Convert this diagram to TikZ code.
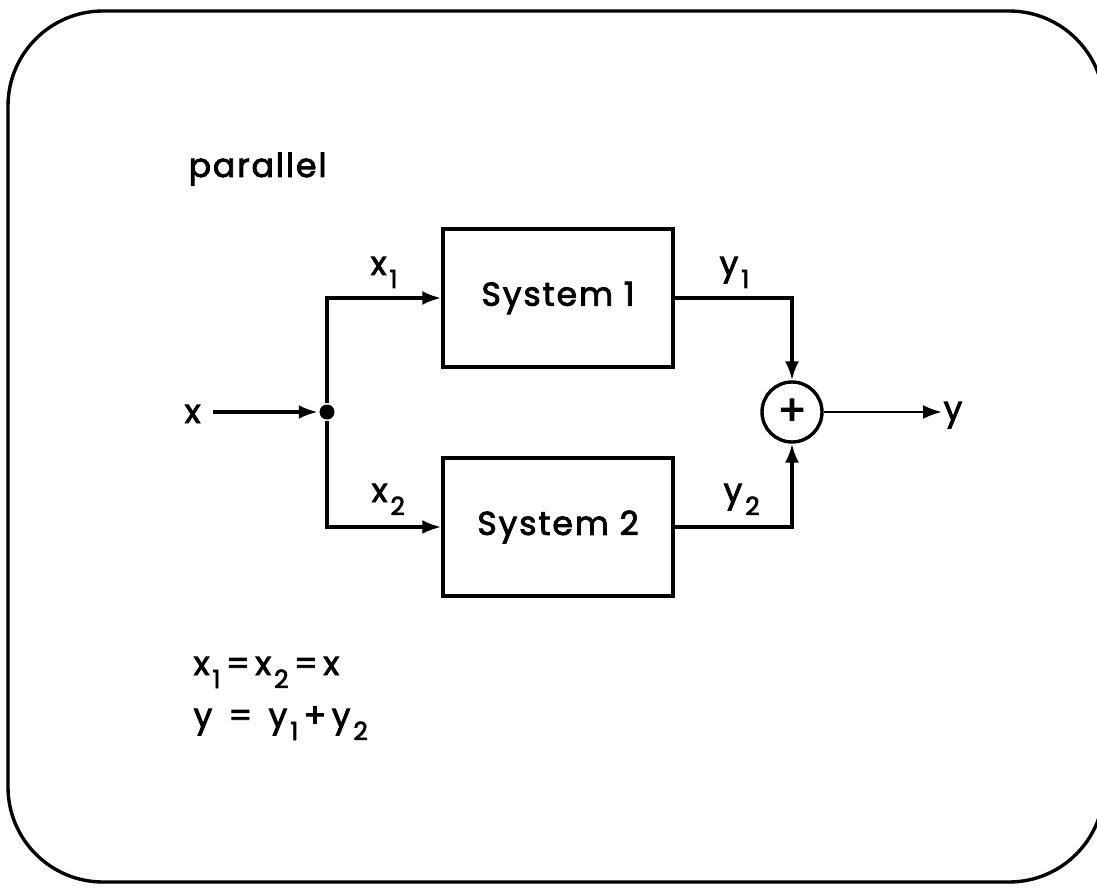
\documentclass[tikz,border=0pt]{standalone}
\usepackage{fontspec}
\setmainfont{Poppins}[LetterSpace=6, FakeBold=2.6]
\usetikzlibrary{arrows.meta, positioning}
\newcommand\idx[1]{\kern3pt\raisebox{-13pt}{\fontsize{25}{25}\selectfont #1}}

\begin{document}
\begin{tikzpicture}[x=1pt, y=-1pt,
  font=\fontsize{33}{38}\selectfont,
  line width=3.4pt,
  box/.style={draw, minimum width=230pt, minimum height=138pt, inner sep=0pt},
  sum/.style={draw, circle, minimum size=60pt, inner sep=0pt, font=\fontsize{42}{42}\selectfont},
  lbl/.style={inner sep=0pt, anchor=base west},
  >={Latex[length=19pt,width=14pt]}]
\useasboundingbox (0,0) rectangle (1097,893);
\draw[rounded corners=95pt] (8,11) rectangle (1104,882);
\node[lbl] (title) at (187,177) {parallel};
% blocks
\node[box] (sys1) at (558,298) {System 1};
\node[box] (sys2) at (558,527) {System 2};
\node[sum] (add) at (792,412) {+};
\node[circle, fill, inner sep=0pt, minimum size=15pt] (split) at (327,412) {};
\node[lbl] (in) at (183,423) {x};
\node[lbl] (out) at (942,420) {y};
\coordinate (start) at (213,412);
% signal labels
\node[lbl] (x1) at (369,275) {x\idx{1}};
\node[lbl] (x2) at (370,502) {x\idx{2}};
\node[lbl] (y1) at (718,275) {y\idx{1}};
\node[lbl] (y2) at (722,502) {y\idx{2}};
% relations
\node[lbl] (eq1) at (192,675) {x\idx{1}\,=\,x\idx{2}\,=\,x};
\node[lbl] (eq2) at (192,727) {y \,=\, y\idx{1}\,+\,y\idx{2}};
\draw[->] (start) -- (split);
\draw[->] (split) |- (sys1.west);
\draw[->] (split) |- (sys2.west);
\draw[->] (sys1.east) -| (add.north);
\draw[->] (sys2.east) -| (add.south);
\draw[->, line width=2.6pt] (add.east) -- (out.west |- add.east);
\end{tikzpicture}
\end{document}
